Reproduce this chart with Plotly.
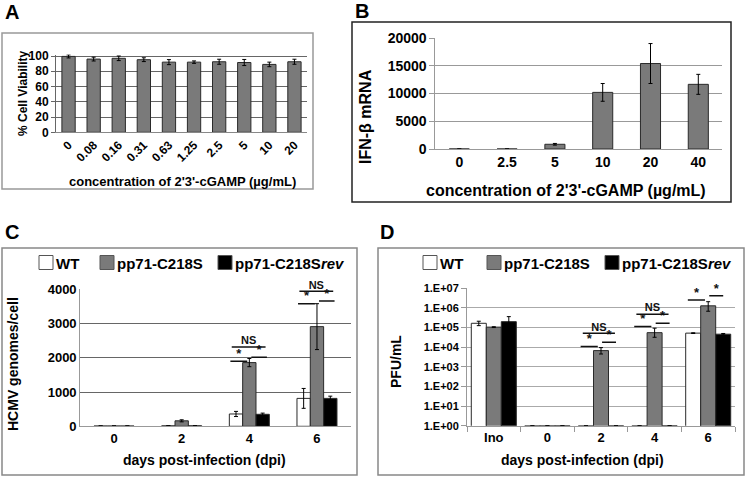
import plotly.graph_objects as go

W, H = 750, 478
def px(x):
    return x / W
def py(y):
    return 1 - y / H

FONT = "Liberation Sans, Arial, sans-serif"
GRAY = "#7a7a7a"
EDGE = "#2a2a2a"
WHITE_BAR = "#ffffff"
BLACK_BAR = "#000000"

# ---------------- data ----------------
# Panel A
conc_A = ["0", "0.08", "0.16", "0.31", "0.63", "1.25", "2.5", "5", "10", "20"]
viability = [99.5, 96, 97, 95.2, 92, 92, 92.5, 91.5, 89, 92.5]
viability_err = [2, 2.5, 3, 2.5, 3.3, 1.6, 3.3, 4, 3, 3.3]
viability_ticks = [0, 20, 40, 60, 80, 100]

# Panel B
conc_B = ["0", "2.5", "5", "10", "20", "40"]
ifnb = [0, 0, 850, 10200, 15400, 11650]
ifnb_err = [0, 0, 150, 1600, 3600, 1800]
ifnb_ticks = [0, 5000, 10000, 15000, 20000]

# Panel C
days_C = ["0", "2", "4", "6"]
gen_wt = [10, 15, 360, 815]
gen_wt_err = [0, 0, 75, 290]
gen_mut = [10, 160, 1860, 2910]
gen_mut_err = [0, 30, 120, 670]
gen_rev = [10, 15, 350, 815]
gen_rev_err = [0, 0, 35, 65]
gen_ticks = [0, 1000, 2000, 3000, 4000]

# Panel D
days_D = ["Ino", "0", "2", "4", "6"]
pfu_wt = [1.65e5, 1, 1, 1, 5.2e4]
pfu_wt_up = [4.5e4, 0, 0, 0, 2e3]
pfu_wt_dn = [4.0e4, 0, 0, 0, 2e3]
pfu_mut = [1.05e5, 1, 6.7e3, 5.5e4, 1.28e6]
pfu_mut_up = [5e3, 0, 2.8e3, 3.8e4, 8e5]
pfu_mut_dn = [5e3, 0, 2.2e3, 2.3e4, 6e5]
pfu_rev = [2.0e5, 1, 1, 1, 4.6e4]
pfu_rev_up = [1.6e5, 0, 0, 0, 4e3]
pfu_rev_dn = [6e4, 0, 0, 0, 4e3]
pfu_ticks = [1e0, 1e1, 1e2, 1e3, 1e4, 1e5, 1e6, 1e7]
pfu_ticktext = ["1.E+00", "1.E+01", "1.E+02", "1.E+03", "1.E+04", "1.E+05", "1.E+06", "1.E+07"]

# significance brackets (category index, star-left level, star-right level, NS level)
sigC_cat = [2, 3]
sigC_left = [1900, 3580]
sigC_right = [2015, 3660]
sigC_ns = [2315, 3940]

sigD_cat = [2, 3, 4]
sigD_left = [1.07e4, 1.12e5, 2.57e6]
sigD_right = [1.78e4, 1.66e5, 4.17e6]
sigD_ns = [5.1e4, 4.8e5, 1.23e7]

series_names = ["WT", "pp71-C218S", "pp71-C218S<i>rev</i>"]
series_colors = [WHITE_BAR, GRAY, BLACK_BAR]

fig = go.Figure()

def err_dict(arr, minus=None, width=2):
    d = dict(type="data", array=arr, color="black", thickness=1, width=width, visible=True)
    if minus is not None:
        d["symmetric"] = False
        d["arrayminus"] = minus
    return d

# Panel A bars
fig.add_trace(go.Bar(x=list(range(len(conc_A))), y=viability, xaxis="x", yaxis="y",
                     width=0.53, offset=-0.265, marker=dict(color=GRAY, line=dict(color=EDGE, width=1)),
                     error_y=err_dict(viability_err), showlegend=False))
# Panel B bars
fig.add_trace(go.Bar(x=list(range(len(conc_B))), y=ifnb, xaxis="x2", yaxis="y2",
                     width=0.42, offset=-0.21, marker=dict(color=GRAY, line=dict(color=EDGE, width=1)),
                     error_y=err_dict(ifnb_err), showlegend=False))
# Panel C bars
wC = 0.197
for vals, errs, col, off, nm in [(gen_wt, gen_wt_err, WHITE_BAR, -1.5 * wC, series_names[0]),
                                 (gen_mut, gen_mut_err, GRAY, -0.5 * wC, series_names[1]),
                                 (gen_rev, gen_rev_err, BLACK_BAR, 0.5 * wC, series_names[2])]:
    fig.add_trace(go.Bar(x=list(range(len(days_C))), y=vals, xaxis="x3", yaxis="y3", name=nm,
                         width=wC, offset=off, marker=dict(color=col, line=dict(color=EDGE, width=1)),
                         error_y=err_dict(errs), showlegend=False))
# Panel D bars
wD = 0.28
for vals, up, dn, col, off, nm in [(pfu_wt, pfu_wt_up, pfu_wt_dn, WHITE_BAR, -1.5 * wD, series_names[0]),
                                   (pfu_mut, pfu_mut_up, pfu_mut_dn, GRAY, -0.5 * wD, series_names[1]),
                                   (pfu_rev, pfu_rev_up, pfu_rev_dn, BLACK_BAR, 0.5 * wD, series_names[2])]:
    fig.add_trace(go.Bar(x=list(range(len(days_D))), y=vals, xaxis="x4", yaxis="y4", name=nm,
                         width=wD, offset=off, marker=dict(color=col, line=dict(color=EDGE, width=1)),
                         error_y=err_dict(up, dn), showlegend=False))

# significance brackets
def add_sig(cats, left, right, ns, xa, ya, lo, ro, no, star_size, ns_size):
    lx, ly, tx, ty, tt = [], [], [], [], []
    for c, a, b, n in zip(cats, left, right, ns):
        for (x0, x1), yv, lab in [(lo, a, "*"), (ro, b, "*"), (no, n, "NS")]:
            lx += [c + x0, c + x1, None]
            ly += [yv, yv, None]
            tx.append(c + (x0 + x1) / 2)
            ty.append(yv)
            tt.append(lab)
    fig.add_trace(go.Scatter(x=lx, y=ly, mode="lines", xaxis=xa, yaxis=ya, cliponaxis=False,
                             line=dict(color="#111", width=1.5), showlegend=False, hoverinfo="skip"))
    fig.add_trace(go.Scatter(x=tx, y=ty, mode="text", text=tt, textposition="top center",
                             xaxis=xa, yaxis=ya, cliponaxis=False,
                             textfont=dict(size=[star_size if t == "*" else ns_size for t in tt],
                                           color="#111", family=FONT, weight="bold"),
                             showlegend=False, hoverinfo="skip"))

add_sig(sigC_cat, sigC_left, sigC_right, sigC_ns, "x3", "y3",
        (-0.28, -0.03), (0.03, 0.26), (-0.26, 0.24), 13, 11)
add_sig(sigD_cat, sigD_left, sigD_right, sigD_ns, "x4", "y4",
        (-0.38, -0.06), (0.02, 0.28), (-0.34, 0.26), 13, 11)

def tf(s):
    return dict(family=FONT, size=s, color="black", weight="bold")

fig.update_layout(
    width=W, height=H, margin=dict(l=0, r=0, t=0, b=0, autoexpand=False),
    paper_bgcolor="white", plot_bgcolor="white",
    font=dict(family=FONT, color="black", weight="bold"),
    barmode="overlay", showlegend=False,
    xaxis=dict(domain=[px(56), px(307)], range=[-0.5, 9.5], anchor="y",
               tickmode="array", tickvals=list(range(len(conc_A))), ticktext=conc_A,
               tickangle=-45, tickfont=tf(12), showgrid=False, zeroline=False,
               showline=True, linecolor="#888", linewidth=1, ticks=""),
    yaxis=dict(domain=[py(132.3), py(54.5)], range=[0, 102], anchor="x",
               tickmode="array", tickvals=viability_ticks, ticktext=[str(v) for v in viability_ticks],
               tickfont=tf(12),
               showgrid=True, gridcolor="#666", gridwidth=1, zeroline=False,
               showline=True, linecolor="#666", ticks="outside", ticklen=4, tickcolor="#666"),
    xaxis2=dict(domain=[px(435.4), px(722.2)], range=[-0.5, 5.5], anchor="y2",
                tickmode="array", tickvals=list(range(len(conc_B))), ticktext=conc_B,
                tickfont=tf(14), showgrid=False, zeroline=False,
                showline=True, linecolor="#999", ticks=""),
    yaxis2=dict(domain=[py(149), py(38)], range=[0, 20000], anchor="x2",
                tickmode="array", tickvals=ifnb_ticks, ticktext=[str(v) for v in ifnb_ticks],
                tickfont=tf(14),
                showgrid=True, gridcolor="#999", zeroline=False,
                showline=True, linecolor="#999", ticks="outside", ticklen=5, tickcolor="#999"),
    xaxis3=dict(domain=[px(80.2), px(350.8)], range=[-0.5, 3.5], anchor="y3",
                tickmode="array", tickvals=list(range(len(days_C))), ticktext=days_C,
                tickfont=tf(13), showgrid=False, zeroline=False,
                showline=True, linecolor="#999", ticks=""),
    yaxis3=dict(domain=[py(426.3), py(289.3)], range=[0, 4000], anchor="x3",
                tickmode="array", tickvals=gen_ticks, ticktext=[str(v) for v in gen_ticks],
                tickfont=tf(13),
                showgrid=True, gridcolor="#666", zeroline=False,
                showline=True, linecolor="#999", ticks=""),
    xaxis4=dict(domain=[px(467), px(735)], range=[-0.5, 4.5], anchor="y4",
                tickmode="array", tickvals=list(range(len(days_D))), ticktext=days_D,
                tickfont=tf(13), showgrid=False, zeroline=False,
                showline=True, linecolor="#999", ticks="",
                minor=dict(tickmode="linear", tick0=0.5, dtick=1, ticks="outside",
                           ticklen=5, tickcolor="#999", showgrid=False)),
    yaxis4=dict(domain=[py(425.7), py(288.3)], type="log", range=[0, 7], anchor="x4",
                tickmode="array", tickvals=pfu_ticks, ticktext=pfu_ticktext, tickfont=tf(11),
                showgrid=True, gridcolor="#aaa", zeroline=False,
                showline=True, linecolor="#999", ticks="outside", ticklen=5, tickcolor="#999"),
)

shapes = []
# panel frames
for (x0, y0, x1, y1, col) in [(2, 33, 313, 189, "#999"), (352, 22, 731, 202, "#222"),
                              (2, 248, 357, 475, "#888"), (378, 248, 744, 475, "#888")]:
    shapes.append(dict(type="rect", xref="paper", yref="paper", x0=px(x0), x1=px(x1),
                       y0=py(y1), y1=py(y0), line=dict(color=col, width=1.5), fillcolor="rgba(0,0,0,0)",
                       layer="below"))

annotations = []
def ann(text, x, y, size, xanchor="center", angle=0):
    annotations.append(dict(text=text, x=px(x), y=py(y), xref="paper", yref="paper",
                            xanchor=xanchor, yanchor="middle", showarrow=False, textangle=angle,
                            font=tf(size)))

# manual legends
for lx in [(39, 100, 218), (423, 487, 605)]:
    for sx, col, nm in zip(lx, series_colors, series_names):
        shapes.append(dict(type="rect", xref="paper", yref="paper", x0=px(sx), x1=px(sx + 14),
                           y0=py(269.5), y1=py(255.5), fillcolor=col, line=dict(color="#555", width=1)))
        ann(nm, sx + 15, 263, 15, xanchor="left")

# panel letters
ann("A", 3, 12, 20, xanchor="left")
ann("B", 353, 11, 20, xanchor="left")
ann("C", 3, 232, 20, xanchor="left")
ann("D", 378, 232, 20, xanchor="left")

# axis titles
ann("concentration of 2'3'-cGAMP (µg/mL)", 182, 182, 13)
ann("% Cell Viability", 23, 94, 12, angle=-90)
ann("concentration of 2'3'-cGAMP (µg/mL)", 566, 190, 16)
ann("IFN-β mRNA", 365, 117, 16, angle=-90)
ann("days post-infection (dpi)", 204, 460, 14)
ann("HCMV genomes/cell", 13, 364, 14, angle=-90)
ann("days post-infection (dpi)", 582, 460, 14)
ann("PFU/mL", 396, 362, 14, angle=-90)

fig.update_layout(shapes=shapes, annotations=annotations)
fig.write_html("out.html", config={"displayModeBar": False},
               post_script="document.body.style.margin='0px';")
